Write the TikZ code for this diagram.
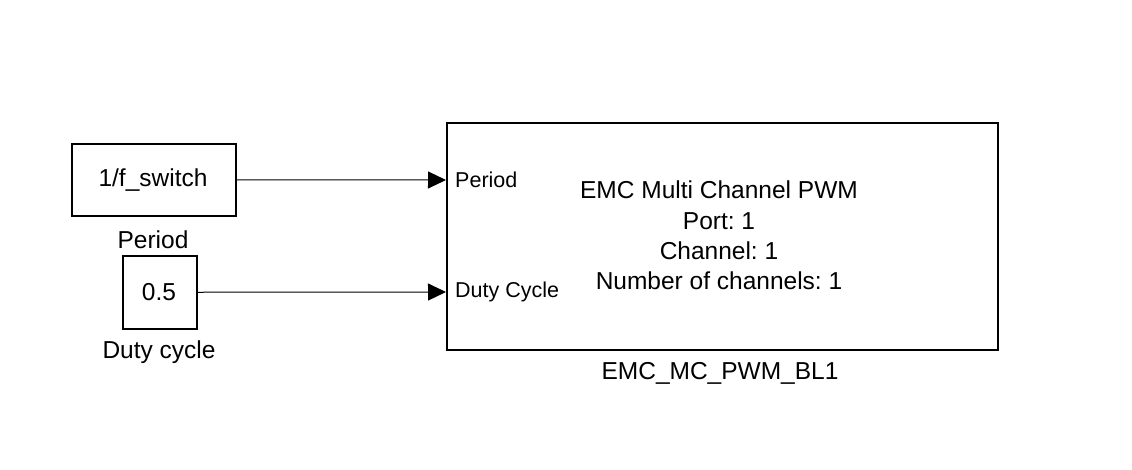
\documentclass[tikz,border=0pt]{standalone}
\usepackage{fontspec}
\setmainfont{Liberation Sans}
\frenchspacing
\usetikzlibrary{arrows.meta,shadows}
\begin{document}
\begin{tikzpicture}[x=1pt,y=-1pt,
  blk/.style={draw,line width=1.5pt,fill=white,inner sep=0pt,anchor=north west,drop shadow={shadow xshift=1.5pt,shadow yshift=-1.5pt,opacity=0.6,fill=black!50}},
  txt/.style={font=\fontsize{24.5}{29}\selectfont,inner sep=0pt},
  port/.style={font=\fontsize{21.5}{26}\selectfont,inner sep=0pt,anchor=west},
  sig/.style={line width=1pt,-{Triangle[length=18pt,width=17pt]}}]
\useasboundingbox[fill=white] (0,0) rectangle (1132,469);
\node[blk,minimum width=164pt,minimum height=72pt] (c1) at (71,143) {};
\node[txt] (c1t) at (153,180) {1/f\_switch};
\node[txt] (c1l) at (153,240) {Period};
\node[blk,minimum width=74pt,minimum height=73pt] (c2) at (122,255) {};
\node[txt] (c2t) at (159,292) {0.5};
\node[txt] (c2l) at (159,352) {Duty cycle};
\node[blk,minimum width=551pt,minimum height=227pt] (pwm) at (446,122) {};
\coordinate (in1) at (446,180);
\coordinate (in2) at (446,292);
\node[port] (p1) at (455,180) {Period};
\node[port] (p2) at (455,292) {Duty Cycle};
\node[txt,align=center,font=\fontsize{24.5}{30.3}\selectfont] (body) at (719,235.5) {EMC Multi Channel PWM\\Port: 1\\Channel: 1\\Number of channels: 1};
\node[txt] (name) at (720,373) {EMC\_MC\_PWM\_BL1};
\draw[sig] (c1.east) -- (in1);
\draw[sig] (c2.east) -- (in2);
\end{tikzpicture}
\end{document}
